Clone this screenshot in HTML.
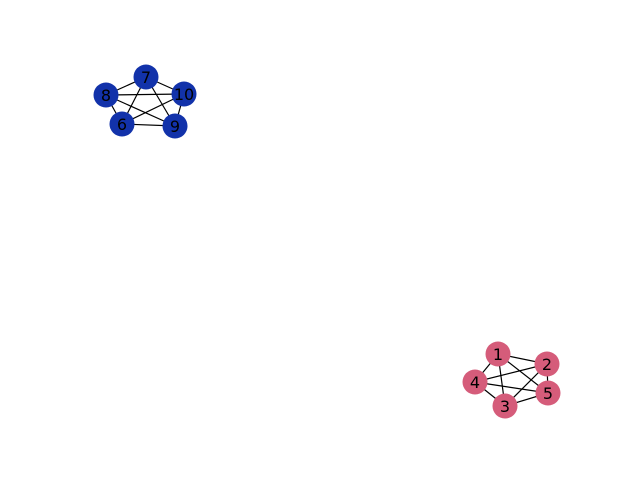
<!DOCTYPE html>
<html><head><meta charset="utf-8"><style>body{margin:0;background:#fff}svg{display:block}</style></head>
<body>
<svg id="chart" width="640" height="480" viewBox="0 0 640 480" xmlns="http://www.w3.org/2000/svg">
<g id="edges"></g>
<g id="nodes"></g>
</svg>
<script>
const nodeLabels = ["1","2","3","4","5","6","7","8","9","10"];
const nodeX = [498,547,505,475,548,122,146,106,175,184];
const nodeY = [354,364,406,382,393,124,77,95,126,94];
const nodeGroup = [0,0,0,0,0,1,1,1,1,1];
const groupColors = ["#d55c7a","#1232aa"];
const NS="http://www.w3.org/2000/svg";
const eg=document.getElementById('edges'), ng=document.getElementById('nodes');
for(let i=0;i<nodeLabels.length;i++)for(let j=i+1;j<nodeLabels.length;j++){
  if(nodeGroup[i]!==nodeGroup[j])continue;
  const l=document.createElementNS(NS,'line');
  l.setAttribute('x1',nodeX[i]);l.setAttribute('y1',nodeY[i]);
  l.setAttribute('x2',nodeX[j]);l.setAttribute('y2',nodeY[j]);
  l.setAttribute('stroke','#000');l.setAttribute('stroke-width','1.2');
  
  
  eg.appendChild(l);
}
for(let i=0;i<nodeLabels.length;i++){
  const c=document.createElementNS(NS,'circle');
  c.setAttribute('cx',nodeX[i]);c.setAttribute('cy',nodeY[i]);c.setAttribute('r',12.5);
  c.setAttribute('fill',groupColors[nodeGroup[i]]);
  
  
  ng.appendChild(c);
  const t=document.createElementNS(NS,'text');
  t.setAttribute('x',nodeX[i]);t.setAttribute('y',nodeY[i]+6);
  t.setAttribute('text-anchor','middle');
  t.setAttribute('font-family','DejaVu Sans, Liberation Sans, sans-serif');
  t.setAttribute('font-size','16');t.setAttribute('fill','#000');
  t.textContent=nodeLabels[i];
  
  
  ng.appendChild(t);
}
</script>
</body></html>
